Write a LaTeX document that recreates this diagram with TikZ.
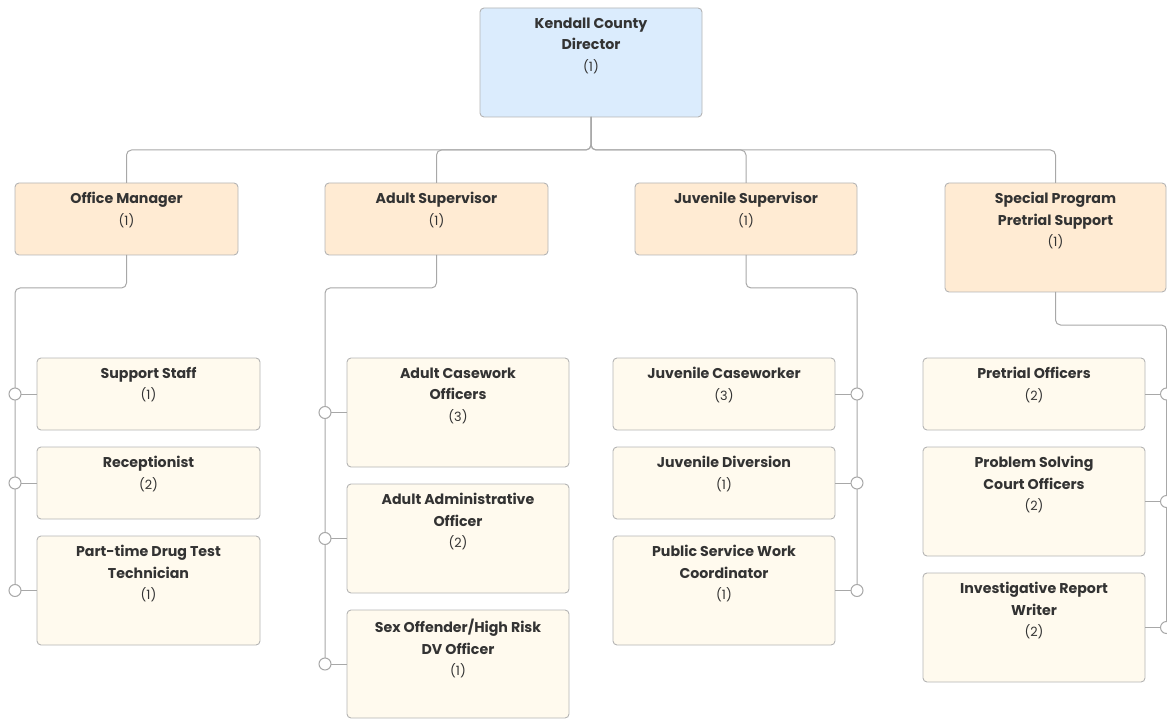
\documentclass[tikz,border=0pt]{standalone}
\usepackage{fontspec}
\setmainfont{Poppins}
\definecolor{dirfill}{HTML}{DBECFD}
\definecolor{mgrfill}{HTML}{FFEBD3}
\definecolor{stafffill}{HTML}{FFFAEE}
\definecolor{boxline}{HTML}{B4B4B4}
\definecolor{linec}{HTML}{A8A8A8}
\definecolor{txt}{HTML}{333333}
\tikzset{
  box/.style={draw=boxline, line width=0.9pt, rounded corners=4pt, anchor=north west, inner sep=0pt, outer sep=0pt},
  dirbox/.style={box, fill=dirfill},
  mgrbox/.style={box, fill=mgrfill},
  staffbox/.style={box, fill=stafffill},
  ttl/.style={font=\bfseries\fontsize{14.2}{21.5}\selectfont, text=txt, align=center, anchor=north, inner sep=0pt},
  conn/.style={draw=linec, line width=1pt, rounded corners=5pt},
  dot/.style={circle, draw=linec, fill=white, line width=1pt, minimum size=12pt, inner sep=0pt},
}
\newcommand{\cnt}[1]{{\mdseries\fontsize{12.8}{21.5}\selectfont(#1)}}
% name, style, x, y, w, h, text
\newcommand{\obox}[7]{%
  \node[#2, minimum width=#5pt, minimum height=#6pt] (#1) at (#3,#4) {};
  \node[ttl] (#1t) at ([yshift=-9pt]#1.north) {\rule{0pt}{11pt}#7};
}
\begin{document}
\begin{tikzpicture}[x=1pt,y=-1pt]
\useasboundingbox (0,0) rectangle (1167,719);

% top
\obox{dir}{dirbox}{480}{8}{222}{109}{Kendall County\\Director\\\cnt{1}}
% level 2
\obox{om}{mgrbox}{15}{183}{223}{72}{Office Manager\\\cnt{1}}
\obox{as}{mgrbox}{325}{183}{223}{72}{Adult Supervisor\\\cnt{1}}
\obox{js}{mgrbox}{635}{183}{222}{72}{Juvenile Supervisor\\\cnt{1}}
\obox{sp}{mgrbox}{945}{183}{221}{109}{Special Program\\Pretrial Support\\\cnt{1}}

% level 3 - office manager
\obox{ss}{staffbox}{37}{358}{223}{72}{Support Staff\\\cnt{1}}
\obox{rc}{staffbox}{37}{447}{223}{72}{Receptionist\\\cnt{2}}
\obox{dt}{staffbox}{37}{536}{223}{109}{Part-time Drug Test\\Technician\\\cnt{1}}
% adult
\obox{ac}{staffbox}{347}{358}{222}{109}{Adult Casework\\Officers\\\cnt{3}}
\obox{aa}{staffbox}{347}{484}{222}{109}{Adult Administrative\\Officer\\\cnt{2}}
\obox{so}{staffbox}{347}{610}{222}{108}{Sex Offender/High Risk\\DV Officer\\\cnt{1}}
% juvenile
\obox{jc}{staffbox}{613}{358}{222}{72}{Juvenile Caseworker\\\cnt{3}}
\obox{jd}{staffbox}{613}{447}{222}{72}{Juvenile Diversion\\\cnt{1}}
\obox{ps}{staffbox}{613}{536}{222}{109}{Public Service Work\\Coordinator\\\cnt{1}}
% special
\obox{po}{staffbox}{923}{358}{222}{72}{Pretrial Officers\\\cnt{2}}
\obox{pc}{staffbox}{923}{447}{222}{109}{Problem Solving\\Court Officers\\\cnt{2}}
\obox{ir}{staffbox}{923}{573}{222}{109}{Investigative Report\\Writer\\\cnt{2}}

% connectors top
\foreach \c in {om,as,js,sp}{
  \draw[conn] (dir.south) -- ++(0,33) -| (\c.north);
}

% circle coordinates
\coordinate (oc1) at (15,394);
\coordinate (oc2) at (15,483);
\coordinate (oc3) at (15,590.5);
\coordinate (ac1) at (325,412.5);
\coordinate (ac2) at (325,538.5);
\coordinate (ac3) at (325,664);
\coordinate (jc1) at (857,394);
\coordinate (jc2) at (857,483);
\coordinate (jc3) at (857,590.5);
\coordinate (sc1) at (1166.5,394);
\coordinate (sc2) at (1166.5,501.5);
\coordinate (sc3) at (1166.5,627.5);

\draw[conn] (om.south) -- ++(0,33) -| (oc3);
\draw[conn] (as.south) -- ++(0,33) -| (ac3);
\draw[conn] (js.south) -- ++(0,33) -| (jc3);
\draw[conn] (sp.south) -- ++(0,33) -| (sc3);

\draw[conn] (oc1) -- (ss.west);
\draw[conn] (oc2) -- (rc.west);
\draw[conn] (oc3) -- (dt.west);
\draw[conn] (ac1) -- (ac.west);
\draw[conn] (ac2) -- (aa.west);
\draw[conn] (ac3) -- (so.west);
\draw[conn] (jc1) -- (jc.east);
\draw[conn] (jc2) -- (jd.east);
\draw[conn] (jc3) -- (ps.east);
\draw[conn] (sc1) -- (po.east);
\draw[conn] (sc2) -- (pc.east);
\draw[conn] (sc3) -- (ir.east);

\foreach \d in {oc1,oc2,oc3,ac1,ac2,ac3,jc1,jc2,jc3,sc1,sc2,sc3}{
  \node[dot] (\d n) at (\d) {};
}
\end{tikzpicture}
\end{document}
